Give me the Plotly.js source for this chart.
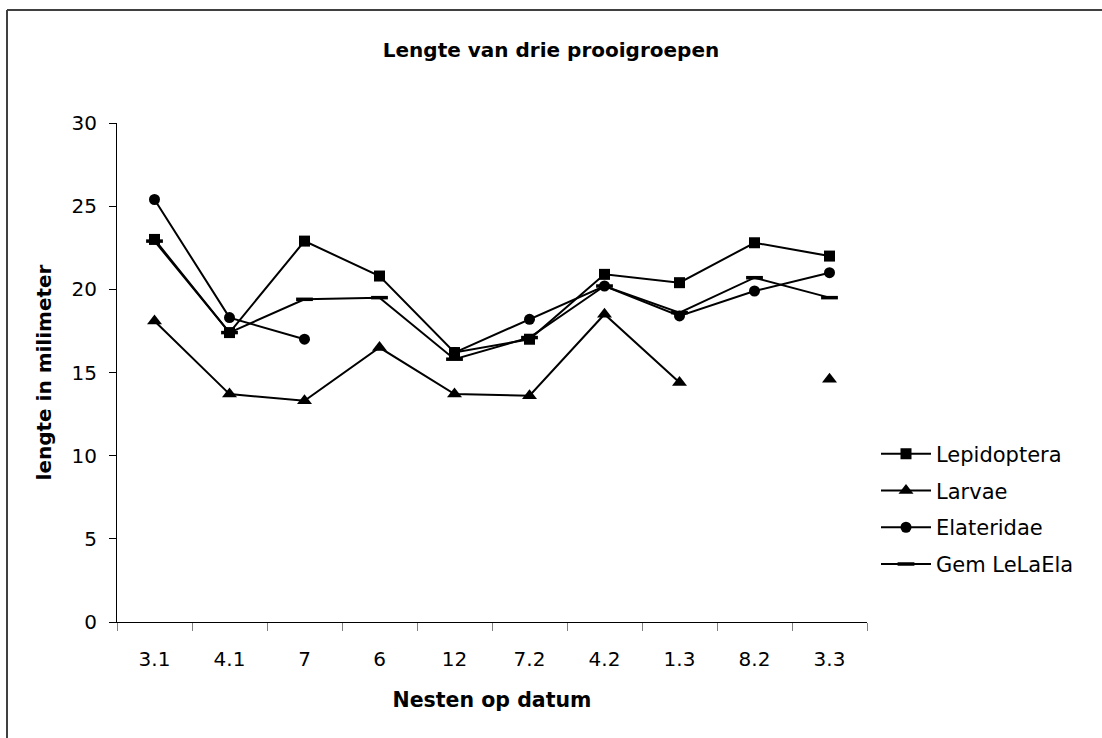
<!DOCTYPE html>
<html>
<head>
<meta charset="utf-8">
<script src="https://cdn.plot.ly/plotly-3.0.1.min.js"></script>
<style>
  html, body { margin: 0; padding: 0; background: #ffffff; }
  #chart { width: 1102px; height: 738px; }
</style>
</head>
<body>
<div id="chart"></div>
<script>
// Nest labels (date codes) along the x axis
const categories = ['3.1', '4.1', '7', '6', '12', '7.2', '4.2', '1.3', '8.2', '3.3'];

// Mean prey length per nest, in millimetres (null = no measurement)
const lepidoptera = [23.0, 17.4, 22.9, 20.8, 16.2, 17.0, 20.9, 20.4, 22.8, 22.0];
const larvae      = [18.1, 13.7, 13.3, 16.5, 13.7, 13.6, 18.5, 14.4, null, 14.6];
const elateridae  = [25.4, 18.3, 17.0, null, 16.2, 18.2, 20.2, 18.4, 19.9, 21.0];
const gemLeLaEla  = [22.9, 17.4, 19.4, 19.5, 15.8, 17.1, 20.2, 18.6, 20.7, 19.5];

const seriesNames = ['Lepidoptera', 'Larvae', 'Elateridae', 'Gem LeLaEla'];
const yTickVals = [0, 5, 10, 15, 20, 25, 30];

const W = 1102, H = 738;
const M = { l: 117, r: 235, t: 123, b: 116 };
const plotW = W - M.l - M.r, plotH = H - M.t - M.b;

const lineStyle = { color: '#000000', width: 2 };

function series(name, values, marker) {
  return {
    type: 'scatter',
    mode: 'lines+markers',
    name: name,
    legendgroup: name,
    x: categories,
    y: values,
    line: lineStyle,
    marker: marker,
    connectgaps: false,
    hoverinfo: 'x+y+name'
  };
}

const traces = [
  series(seriesNames[0], lepidoptera, { symbol: 'square', size: 11, color: '#000000' }),
  series(seriesNames[1], larvae, { symbol: 'triangle-up', size: 13, color: '#000000' }),
  series(seriesNames[2], elateridae, { symbol: 'circle', size: 11, color: '#000000' }),
  series(seriesNames[3], gemLeLaEla, { symbol: 'line-ew', size: 12, color: '#000000', line: { color: '#000000', width: 3.5 } })
];

// Chart-area frame (left and top edges sit inside the page)
const px2x = px => (px - M.l) / plotW;
const px2y = py => (H - M.b - py) / plotH;
const frame = { color: '#404040', width: 2 };

const layout = {
  width: W,
  height: H,
  margin: M,
  paper_bgcolor: '#ffffff',
  plot_bgcolor: '#ffffff',
  font: { family: 'DejaVu Sans, sans-serif', color: '#000000', size: 20 },
  showlegend: true,
  title: {
    text: '<b>Lengte van drie prooigroepen</b>',
    font: { family: 'DejaVu Sans, sans-serif', size: 20, color: '#000000' },
    xref: 'container', x: 0.5, xanchor: 'center',
    yref: 'container', y: 1 - 50 / H, yanchor: 'middle'
  },
  xaxis: {
    type: 'category',
    range: [-0.5, categories.length - 0.5],
    showline: true, linecolor: '#000000', linewidth: 1,
    showgrid: false, zeroline: false,
    ticks: 'outside', tickson: 'boundaries', ticklen: 8, tickcolor: '#808080', tickwidth: 1,
    tickfont: { size: 20 },
    ticklabelstandoff: 19,
    title: { text: '<b>Nesten op datum</b>', font: { size: 20.5 }, standoff: 22 },
    fixedrange: true
  },
  yaxis: {
    range: [0, 30],
    tickvals: yTickVals,
    ticktext: yTickVals.map(String),
    showline: true, linecolor: '#000000', linewidth: 1,
    showgrid: false, zeroline: false,
    ticks: 'outside', ticklen: 7, tickcolor: '#000000', tickwidth: 1,
    tickfont: { size: 20 },
    ticklabelstandoff: 8,
    title: { text: '<b>lengte in milimeter</b>', font: { size: 20 }, standoff: 14 },
    fixedrange: true
  },
  legend: {
    x: px2x(876), xanchor: 'left',
    y: px2y(509), yanchor: 'middle',
    font: { size: 21, color: '#000000' },
    bgcolor: 'rgba(0,0,0,0)',
    borderwidth: 0,
    tracegroupgap: 6.5,
    itemwidth: 50
  },
  shapes: [
    { type: 'line', xref: 'paper', yref: 'paper', x0: px2x(7), x1: px2x(W + 10), y0: px2y(10), y1: px2y(10), line: frame },
    { type: 'line', xref: 'paper', yref: 'paper', x0: px2x(7), x1: px2x(7), y0: px2y(10), y1: px2y(H + 10), line: frame }
  ]
};

Plotly.newPlot('chart', traces, layout, { displayModeBar: false, staticPlot: false });
</script>
</body>
</html>
